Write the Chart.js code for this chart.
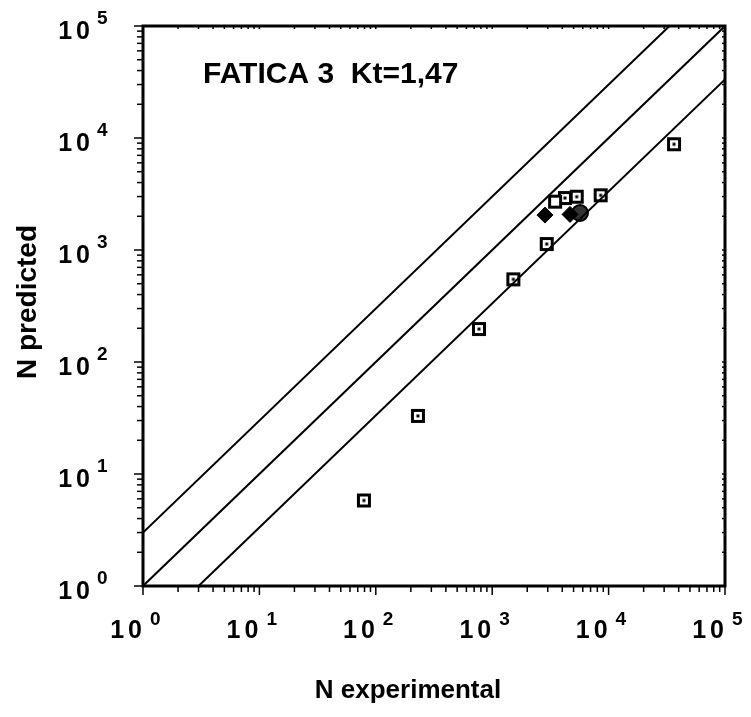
<!DOCTYPE html>
<html>
<head>
<meta charset="utf-8">
<script src="https://cdn.jsdelivr.net/npm/chart.js@4/dist/chart.umd.min.js"></script>
<style>
  html, body { margin: 0; padding: 0; background: #fff; }
  #wrap { width: 751px; height: 717px; }
</style>
</head>
<body>
<div id="wrap"><canvas id="fatigueChart" width="751" height="717"></canvas></div>
<script>
const expSquares = [79, 230, 770, 1520, 2940, 8550, 36500];
const predSquares = [5.8, 33, 197, 547, 1130, 3080, 8800];

const expCluster = [4220, 5320];
const predCluster = [2910, 2990];

const expOpen = [3470];
const predOpen = [2700];

const expFilled = [2840, 4660];
const predFilled = [2050, 2080];

const expHatched = [5680];
const predHatched = [2140];

// scatter band lines: N_pred = N_exp * factor
const bandFactors = [3, 1, 1 / 3];
const axisMin = 1;
const axisMax = 100000;
const decades = [0, 1, 2, 3, 4, 5];

function toPoints(xs, ys) {
    return xs.map((x, i) => ({ x: x, y: ys[i] }));
}

function bandLine(f) {
    const x0 = Math.max(axisMin, axisMin / f);
    const x1 = Math.min(axisMax, axisMax / f);
    return [{ x: x0, y: x0 * f }, { x: x1, y: x1 * f }];
}

function squareIcon(withDot) {
    const c = document.createElement('canvas');
    c.width = 16; c.height = 16;
    const g = c.getContext('2d');
    g.fillStyle = '#fff';
    g.fillRect(1, 1, 14, 14);
    g.strokeStyle = '#000';
    g.lineWidth = 3;
    g.strokeRect(2.5, 2.5, 11, 11);
    if (withDot) {
        g.fillStyle = '#000';
        g.fillRect(6.5, 6.5, 3, 3);
    }
    return c;
}

const dotSquare = squareIcon(true);
const openSquare = squareIcon(false);

const frameAndLabels = {
    id: 'frameAndLabels',
    afterDraw(chart) {
        const ctx = chart.ctx;
        const a = chart.chartArea;
        const xs = chart.scales.x;
        const ys = chart.scales.y;
        ctx.save();
        ctx.strokeStyle = '#000';
        ctx.lineWidth = 3;
        ctx.strokeRect(a.left, a.top, a.right - a.left, a.bottom - a.top);

        // tick marks
        ctx.lineWidth = 1.5;
        decades.forEach(d => {
            for (let m = 1; m <= 9; m++) {
                const v = m * Math.pow(10, d);
                if (v > axisMax) break;
                const len = m === 1 ? 9 : 6;
                const px = xs.getPixelForValue(v);
                ctx.beginPath();
                ctx.moveTo(px, a.bottom);
                ctx.lineTo(px, a.bottom + len);
                ctx.stroke();
                const py = ys.getPixelForValue(v);
                ctx.beginPath();
                ctx.moveTo(a.left, py);
                ctx.lineTo(a.left - len, py);
                ctx.stroke();
                ctx.beginPath();
                ctx.moveTo(a.right, py);
                ctx.lineTo(a.right - 3, py);
                ctx.stroke();
                ctx.beginPath();
                ctx.moveTo(px, a.top);
                ctx.lineTo(px, a.top + 3);
                ctx.stroke();
            }
        });

        // tick labels 10^n
        ctx.fillStyle = '#000';
        ctx.textBaseline = 'middle';
        if ('letterSpacing' in ctx) ctx.letterSpacing = '4px';
        decades.forEach(d => {
            const v = Math.pow(10, d);
            const px = xs.getPixelForValue(v);
            ctx.font = 'bold 25px "Liberation Sans", Arial, sans-serif';
            ctx.textAlign = 'right';
            ctx.fillText('10', px + 3, a.bottom + 45);
            ctx.font = 'bold 19px "Liberation Sans", Arial, sans-serif';
            ctx.textAlign = 'left';
            ctx.fillText(String(d), px + 7, a.bottom + 34);

            const py = ys.getPixelForValue(v);
            ctx.font = 'bold 25px "Liberation Sans", Arial, sans-serif';
            ctx.textAlign = 'right';
            ctx.fillText('10', 94, py + 6);
            ctx.font = 'bold 19px "Liberation Sans", Arial, sans-serif';
            ctx.textAlign = 'left';
            ctx.fillText(String(d), 97, py - 7);
        });
        if ('letterSpacing' in ctx) ctx.letterSpacing = '0px';

        // axis titles and caption
        ctx.textAlign = 'center';
        ctx.font = 'bold 26px "Liberation Sans", Arial, sans-serif';
        ctx.fillText('N experimental', (a.left + a.right) / 2 - 26, 691);
        ctx.save();
        ctx.translate(28, 302);
        ctx.rotate(-Math.PI / 2);
        ctx.font = 'bold 28px "Liberation Sans", Arial, sans-serif';
        ctx.fillText('N predicted', 0, 0);
        ctx.restore();

        ctx.textAlign = 'left';
        ctx.font = 'bold 30px "Liberation Sans", Arial, sans-serif';
        ctx.fillText('FATICA 3  Kt=1,47', 203, 75);
        ctx.restore();
    }
};

const bandStyle = {
    type: 'line',
    borderColor: '#000',
    borderWidth: 2,
    pointRadius: 0,
    fill: false,
    showLine: true
};

new Chart(document.getElementById('fatigueChart'), {
    type: 'scatter',
    data: {
        datasets: [
            Object.assign({ label: 'upper', data: bandLine(bandFactors[0]) }, bandStyle),
            Object.assign({ label: 'equal', data: bandLine(bandFactors[1]) }, bandStyle),
            Object.assign({ label: 'lower', data: bandLine(bandFactors[2]) }, bandStyle),
            {
                label: 'filled',
                data: toPoints(expFilled, predFilled),
                pointStyle: 'rectRot',
                pointRadius: 8,
                backgroundColor: '#000',
                borderColor: '#000'
            },
            {
                label: 'hatched',
                data: toPoints(expHatched, predHatched),
                pointStyle: 'circle',
                pointRadius: 8,
                backgroundColor: '#333',
                borderColor: '#000',
                borderWidth: 2
            },
            {
                label: 'open',
                data: toPoints(expOpen, predOpen),
                pointStyle: openSquare
            },
            {
                label: 'cluster',
                data: toPoints(expCluster, predCluster),
                pointStyle: dotSquare
            },
            {
                label: 'squares',
                data: toPoints(expSquares, predSquares),
                pointStyle: dotSquare
            }
        ]
    },
    options: {
        responsive: false,
        animation: false,
        layout: { padding: { left: 143, top: 26, right: 26, bottom: 131 } },
        plugins: {
            legend: { display: false },
            tooltip: { enabled: false }
        },
        scales: {
            x: { type: 'logarithmic', min: axisMin, max: axisMax, display: false },
            y: { type: 'logarithmic', min: axisMin, max: axisMax, display: false }
        }
    },
    plugins: [frameAndLabels]
});
</script>
</body>
</html>
